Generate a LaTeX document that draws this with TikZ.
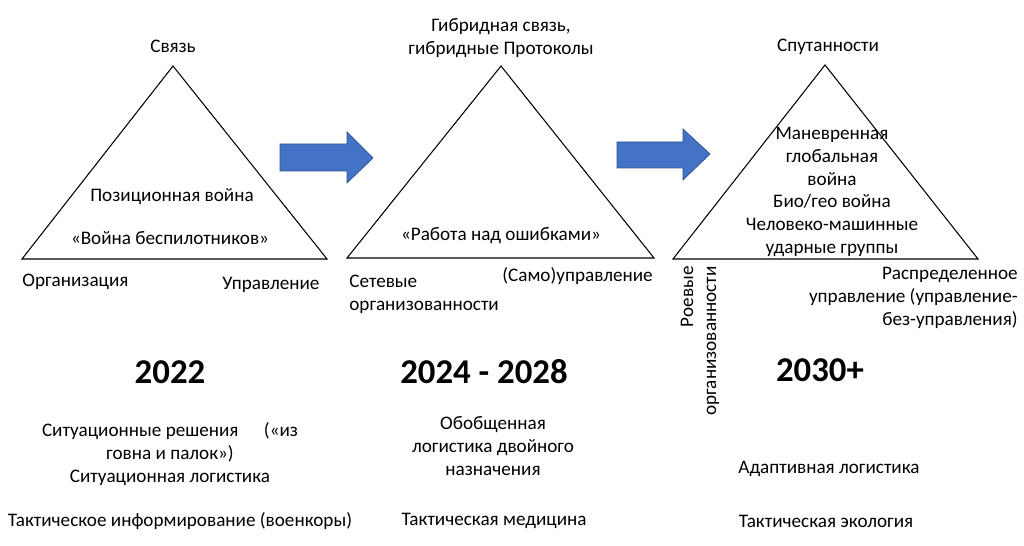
\documentclass[tikz,border=0pt]{standalone}
\usepackage{fontspec}
\setmainfont{Carlito}
\usepackage{xcolor}
\usetikzlibrary{arrows.meta}
\definecolor{arrowblue}{HTML}{4472C4}
\definecolor{arrowedge}{HTML}{2F528F}
\tikzset{
  lbl/.style={inner sep=0pt, font=\fontsize{10.9}{13}\selectfont},
  yearlbl/.style={inner sep=0pt, font=\fontsize{19.8}{22}\selectfont\bfseries},
  tri/.style={line width=0.6pt},
  blockarrow/.style={fill=arrowblue, draw=arrowedge, line width=0.4pt}
}

\begin{document}
\begin{tikzpicture}[x=0.02cm,y=-0.02cm]
\useasboundingbox (0,0) rectangle (1024,546);
\coordinate (t1top) at (173,66);
\coordinate (t1left) at (22,259);
\coordinate (t1right) at (327,259);
\coordinate (t2top) at (501,66);
\coordinate (t2left) at (347,258);
\coordinate (t2right) at (654,258);
\coordinate (t3top) at (825,65);
\coordinate (t3left) at (673,259);
\coordinate (t3right) at (978,259);
\draw[tri] (t1top) -- (t1left) -- (t1right) -- cycle;
\draw[tri] (t2top) -- (t2left) -- (t2right) -- cycle;
\draw[tri] (t3top) -- (t3left) -- (t3right) -- cycle;
\draw[blockarrow] (280,144) -- (347,144) -- (347,132) -- (373,158) -- (347,183) -- (347,171) -- (280,171) -- cycle;
\draw[blockarrow] (617,142) -- (683,142) -- (683,129) -- (710,154) -- (683,180) -- (683,168) -- (617,168) -- cycle;

\node[lbl] (svyaz) at (173,46) {Связь};
\node[lbl] (pozwar) at (172,197) {Позиционная война};
\node[lbl] (dronewar) at (170,238) {«Война беспилотников»};
\node[lbl, anchor=west] (org) at (22,282) {Организация};
\node[lbl, anchor=west] (upr) at (222,285) {Управление};

\node[lbl, align=center] (hybrid) at (501,38) {Гибридная связь,\\гибридные Протоколы};
\node[lbl] (errors) at (501,236) {«Работа над ошибками»};
\node[lbl, align=left, anchor=west] (netorg) at (349,294) {Сетевые\\организованности};
\node[lbl, anchor=west] (selfupr) at (502,276) {(Само)управление};

\node[lbl] (entangle) at (828,47) {Спутанности};
\node[lbl, align=center] (manwar) at (832,192) {Маневренная\\глобальная\\война\\Био/гео война\\Человеко-машинные\\ударные группы};
\node[lbl, rotate=90, align=right, anchor=east] (swarm) at (700,266) {Роевые\\организованности};
\node[lbl, align=right, anchor=east] (distupr) at (1018,298) {Распределенное\\управление (управление-\\без-управления)};

\node[yearlbl] (y1) at (170,372) {2022};
\node[yearlbl] (y2) at (484,372) {2024 - 2028};
\node[yearlbl] (y3) at (820,370) {2030+};

\node[lbl, align=center] (sitlog) at (170,454) {Ситуационные решения\hspace{12pt} («из\\говна и палок»)\\Ситуационная логистика};
\node[lbl] (takinfo) at (180,521) {Тактическое информирование (военкоры)};
\node[lbl, align=center] (duallog) at (493,446) {Обобщенная\\логистика двойного\\назначения};
\node[lbl] (takmed) at (494,521) {Тактическая медицина};
\node[lbl] (adaptlog) at (829,469) {Адаптивная логистика};
\node[lbl] (takeco) at (826,521) {Тактическая экология};
\end{tikzpicture}
\end{document}
